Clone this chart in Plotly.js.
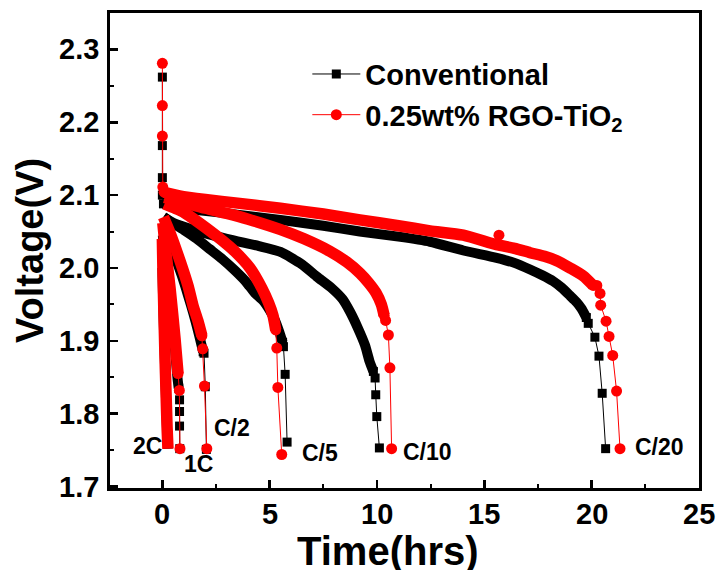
<!DOCTYPE html>
<html>
<head>
<meta charset="utf-8">
<script src="https://cdn.plot.ly/plotly-3.0.1.min.js"></script>
<style>html,body{margin:0;padding:0;background:#fff;}</style>
</head>
<body>
<div id="chart" style="width:717px;height:572px;"></div>
<script>
// Discharge rates (order: 2C, 1C, C/2, C/5, C/10, C/20)
const rateLabels = ['2C', '1C', 'C/2', 'C/5', 'C/10', 'C/20'];
const rateLabelTime = [-0.71, 1.66, 3.23, 7.34, 12.37, 23.18];
const rateLabelVolt = [1.756, 1.731, 1.780, 1.746, 1.747, 1.754];

// Conventional electrode: densely sampled parts of each discharge curve (time in hrs, voltage in V)
const convDenseTime = [
  [0.0, 0.04, 0.09, 0.14, 0.19, 0.23, 0.26],
  [0.02, 0.15, 0.3, 0.45, 0.6, 0.7, 0.76],
  [0.03, 0.3, 0.6, 0.9, 1.2, 1.45, 1.65, 1.8, 1.9],
  [0.05, 0.4, 1.0, 1.6, 2.2, 2.8, 3.4, 3.9, 4.3, 4.7, 5.0, 5.25, 5.45, 5.6],
  [0.05, 0.5, 1.5, 3.0, 4.5, 5.5, 6.5, 7.2, 7.9, 8.4, 8.74, 9.1, 9.44, 9.65, 9.83],
  [0.05, 0.5, 1.5, 3.0, 5.5, 7.5, 9.2, 11.0, 12.47, 14.02, 15.57, 16.4, 17.13, 17.7, 18.2, 18.6, 18.99, 19.3, 19.53, 19.75]
];
const convDenseVolt = [
  [2.0, 1.95, 1.9, 1.85, 1.8, 1.77, 1.752],
  [2.045, 2.01, 1.97, 1.93, 1.885, 1.85, 1.835],
  [2.062, 2.04, 2.015, 1.99, 1.962, 1.937, 1.915, 1.897, 1.885],
  [2.07, 2.063, 2.052, 2.04, 2.026, 2.012, 1.996, 1.981, 1.966, 1.955, 1.942, 1.928, 1.912, 1.898],
  [2.07, 2.062, 2.052, 2.04, 2.03, 2.022, 2.005, 1.988, 1.972, 1.957, 1.94, 1.918, 1.894, 1.872, 1.858],
  [2.088, 2.084, 2.08, 2.075, 2.066, 2.058, 2.05, 2.043, 2.036, 2.024, 2.014, 2.007, 1.998, 1.99, 1.982, 1.973, 1.962, 1.953, 1.944, 1.932]
];
// Conventional electrode: sparsely sampled points (initial spike and curve ends)
const convSparseTime = [
  [0.0, 0.0, 0.0, 0.0, 0.05],
  [0.76, 0.8, 0.8, 0.8, 0.81],
  [1.9, 1.94, 2.0, 2.05],
  [5.6, 5.64, 5.72, 5.81],
  [9.83, 9.91, 9.94, 9.99, 10.11],
  [19.75, 19.84, 20.15, 20.34, 20.49, 20.65]
];
const convSparseVolt = [
  [2.262, 2.168, 2.124, 2.1, 2.088],
  [1.835, 1.819, 1.803, 1.783, 1.752],
  [1.885, 1.883, 1.837, 1.751],
  [1.898, 1.892, 1.854, 1.761],
  [1.858, 1.849, 1.826, 1.796, 1.753],
  [1.932, 1.924, 1.905, 1.879, 1.828, 1.752]
];

// 0.25wt% RGO-TiO2 electrode: densely sampled parts
const rgoDenseTime = [
  [0.0, 0.03, 0.07, 0.12, 0.17, 0.22, 0.26],
  [0.02, 0.13, 0.36, 0.59, 0.73],
  [0.05, 0.4, 0.83, 1.2, 1.43, 1.65, 1.84],
  [0.1, 0.5, 0.97, 1.8, 2.69, 3.4, 4.08, 4.64, 4.95, 5.15, 5.28],
  [0.1, 1.0, 2.0, 3.0, 4.0, 5.48, 6.6, 7.8, 8.6, 9.2, 9.6, 9.95, 10.2, 10.33],
  [0.08, 0.8, 2.0, 3.5, 5.5, 7.5, 9.2, 11.0, 12.47, 14.02, 15.57, 16.4, 17.13, 17.8, 18.37, 18.99, 19.61, 20.07]
];
const rgoDenseVolt = [
  [2.04, 1.99, 1.94, 1.88, 1.83, 1.78, 1.752],
  [2.062, 2.03, 1.972, 1.903, 1.855],
  [2.07, 2.045, 2.009, 1.975, 1.948, 1.928, 1.907],
  [2.088, 2.083, 2.077, 2.06, 2.04, 2.022, 2.0, 1.972, 1.952, 1.935, 1.915],
  [2.097, 2.09, 2.082, 2.075, 2.067, 2.053, 2.04, 2.023, 2.008, 1.993, 1.98, 1.966, 1.95, 1.935],
  [2.104, 2.099, 2.094, 2.089, 2.082, 2.074, 2.066, 2.058, 2.051, 2.045, 2.032, 2.027, 2.021, 2.016, 2.01, 2.0, 1.989, 1.976]
];
// 0.25wt% RGO-TiO2 electrode: sparsely sampled points
const rgoSparseTime = [
  [0.0, 0.0, 0.0, 0.02, 0.08],
  [0.73, 0.79, 0.82],
  [1.84, 1.88, 1.96, 2.07],
  [5.28, 5.33, 5.38, 5.56],
  [10.33, 10.4, 10.53, 10.6, 10.68],
  [15.68],
  [20.07, 20.24, 20.39, 20.42, 20.67, 20.81, 20.98, 21.16, 21.32]
];
const rgoSparseVolt = [
  [2.281, 2.223, 2.181, 2.111, 2.104],
  [1.855, 1.832, 1.752],
  [1.907, 1.889, 1.838, 1.752],
  [1.915, 1.89, 1.836, 1.744],
  [1.935, 1.928, 1.908, 1.863, 1.752],
  [2.045],
  [1.976, 1.976, 1.965, 1.949, 1.927, 1.906, 1.880, 1.831, 1.752]
];

const xTickVals = [0, 5, 10, 15, 20, 25];
const xTickText = ['0', '5', '10', '15', '20', '25'];
const yTickVals = [1.7, 1.8, 1.9, 2.0, 2.1, 2.2, 2.3];
const yTickText = ['1.7', '1.8', '1.9', '2.0', '2.1', '2.2', '2.3'];

function joinCurves(list) {
  const out = [];
  list.forEach((c, i) => { if (i) out.push(null); out.push(...c); });
  return out;
}

const FONT = 'Liberation Sans, Arial, Helvetica, sans-serif';
const BLACK = '#000000';
const RED = '#ff0000';

const traces = [
  {
    x: joinCurves(convDenseTime), y: joinCurves(convDenseVolt),
    mode: 'lines', line: {color: BLACK, width: 10, shape: 'spline', smoothing: 0.6},
    showlegend: false, hoverinfo: 'skip', connectgaps: false, legendgroup: 'conv'
  },
  {
    x: joinCurves(convSparseTime), y: joinCurves(convSparseVolt),
    name: 'Conventional', legendgroup: 'conv',
    mode: 'lines+markers', line: {color: BLACK, width: 1},
    marker: {symbol: 'square', size: 9, color: BLACK}, connectgaps: false
  },
  {
    x: joinCurves(rgoDenseTime), y: joinCurves(rgoDenseVolt),
    mode: 'lines', line: {color: RED, width: 11.5, shape: 'spline', smoothing: 0.6},
    showlegend: false, hoverinfo: 'skip', connectgaps: false, legendgroup: 'rgo'
  },
  {
    x: joinCurves(rgoSparseTime), y: joinCurves(rgoSparseVolt),
    name: '0.25wt% RGO-TiO<sub>2</sub>', legendgroup: 'rgo',
    mode: 'lines+markers', line: {color: RED, width: 1},
    marker: {symbol: 'circle', size: 11, color: RED}, connectgaps: false
  }
];

const tickFont = {family: FONT, size: 29, color: BLACK, weight: 'bold'};

const annotations = rateLabels.map((t, i) => ({
  x: rateLabelTime[i], y: rateLabelVolt[i], xref: 'x', yref: 'y',
  text: t, showarrow: false, xanchor: 'center', yanchor: 'middle',
  font: {family: FONT, size: 23, color: BLACK, weight: 'bold'}
}));
// Tick labels placed at the axis tick values
xTickVals.forEach((v, i) => annotations.push({
  x: v, y: 0, xref: 'x', yref: 'paper', text: xTickText[i], showarrow: false,
  xanchor: 'center', yanchor: 'middle', yshift: -26, font: tickFont
}));
yTickVals.forEach((v, i) => annotations.push({
  x: 0, y: v, xref: 'paper', yref: 'y', text: yTickText[i], showarrow: false,
  xanchor: 'right', yanchor: 'middle', xshift: -9, font: tickFont
}));
annotations.push({
  x: 0.472, y: -0.133, xref: 'paper', yref: 'paper', text: 'Time(hrs)',
  showarrow: false, xanchor: 'center', yanchor: 'middle', height: 38,
  font: {family: FONT, size: 40, color: BLACK, weight: 'bold'}
});
annotations.push({
  x: -0.136, y: 0.501, xref: 'paper', yref: 'paper', text: 'Voltage(V)',
  showarrow: false, xanchor: 'center', yanchor: 'middle', textangle: -90,
  font: {family: FONT, size: 38, color: BLACK, weight: 'bold'}
});

const axisCommon = {
  ticks: 'inside', ticklen: 8, tickwidth: 2.5, tickcolor: BLACK,
  showline: true, linewidth: 3, linecolor: BLACK, mirror: true,
  showgrid: false, zeroline: false, showticklabels: false
};

const layout = {
  width: 717, height: 572,
  margin: {l: 110, r: 18, t: 13, b: 84},
  paper_bgcolor: '#ffffff', plot_bgcolor: '#ffffff',
  font: {family: FONT, color: BLACK},
  xaxis: Object.assign({}, axisCommon, {
    range: [-2.44, 25.0], tickvals: xTickVals,
    minor: {ticks: 'inside', ticklen: 4, tickwidth: 2, tickcolor: BLACK, dtick: 2.5, tick0: 0, showgrid: false}
  }),
  yaxis: Object.assign({}, axisCommon, {
    range: [1.698, 2.35], tickvals: yTickVals,
    minor: {ticks: 'inside', ticklen: 4, tickwidth: 2, tickcolor: BLACK, dtick: 0.05, tick0: 1.7, showgrid: false}
  }),
  legend: {
    x: 0.335, y: 0.925, xanchor: 'left', yanchor: 'top',
    bgcolor: 'rgba(0,0,0,0)', borderwidth: 0, itemwidth: 48, tracegroupgap: 0,
    font: {family: FONT, size: 29, color: BLACK, weight: 'bold'}
  },
  annotations: annotations,
  showlegend: true
};

Plotly.newPlot('chart', traces, layout, {staticPlot: true, displayModeBar: false});
</script>
</body>
</html>
